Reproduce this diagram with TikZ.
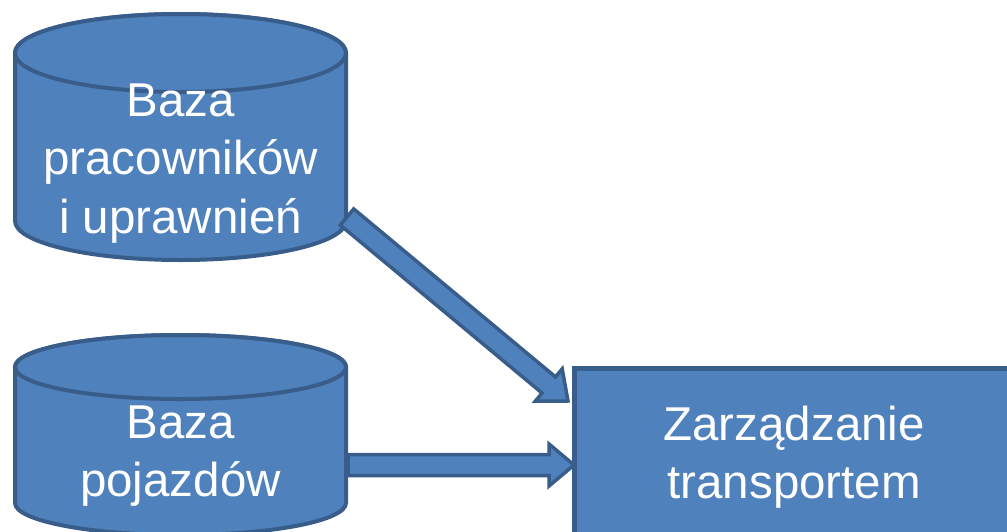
\documentclass[tikz,border=0pt]{standalone}
\usepackage{fontspec}
\setmainfont{Liberation Sans}
\usepackage{tikz}
\usetikzlibrary{calc,positioning}
\definecolor{dbfill}{HTML}{4F81BD}
\definecolor{dbline}{HTML}{385D8A}
\tikzset{dbtext/.style={text=white,align=center,font=\fontsize{47.5}{58.3}\selectfont},
  box/.style={draw=dbline,fill=dbfill,line width=4.5pt,dbtext,inner sep=0pt},
  can/.style={draw=dbline,fill=dbfill,line width=4pt},
  blockarr/.style={draw=dbline,fill=dbfill,line width=3.5pt,line join=miter}}
\newcommand{\blockarrow}[2]{%
  \path[blockarr] let \p1=(#1), \p2=(#2), \n1={atan2(\y2-\y1,\x2-\x1)}, \n2={veclen(\x2-\x1,\y2-\y1)} in
   [shift={(\p1)},rotate=\n1] (0pt,-10.5pt) -- (\n2-25pt,-10.5pt) -- (\n2-25pt,-21pt) -- (\n2,0pt)
   -- (\n2-25pt,21pt) -- (\n2-25pt,10.5pt) -- (0pt,10.5pt) -- cycle;}

\begin{document}
\begin{tikzpicture}[x=1pt,y=1pt]
\useasboundingbox (0,0) rectangle (1007,-531);
\clip (0,0) rectangle (1007,-531);
% two databases
\foreach \top/\ry/\bot in {-53/39/-221,-367/32/-503}{
 \path[can] (15,\top) -- (15,\bot) arc (180:360:165.5 and \ry) -- (346,\top) arc (0:180:165.5 and \ry) -- cycle;
 \path[can] (180.5,\top) ellipse (165.5 and \ry);
}
\node[dbtext] (pracownicy) at (180.5,-163.4) {Baza\\pracowników\\i uprawnień};
\node[dbtext] (pojazdy) at (180.5,-456.4) {Baza\\pojazdów};
\node[box,minimum width=440pt,minimum height=178pt,anchor=north west] (zarz) at (572,-366) {Zarządzanie\\transportem};
% arrow ends
\coordinate (ogon1) at (347,-217);
\coordinate (ogon2) at (348,-465);
\coordinate (grot1) at (568,-401);
\coordinate (grot2) at (574,-465);
\blockarrow{ogon1}{grot1}
\blockarrow{ogon2}{grot2}
\end{tikzpicture}
\end{document}
